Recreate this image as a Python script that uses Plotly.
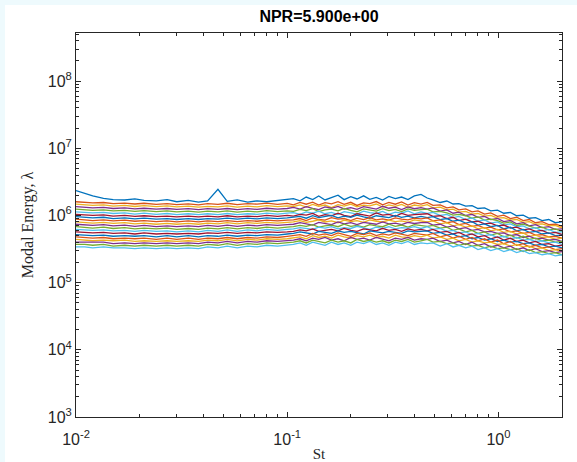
import plotly.graph_objects as go

# Strouhal number grid
st = [0.010, 0.011, 0.012, 0.0135, 0.015, 0.017, 0.019, 0.021, 0.024, 0.027,
      0.030, 0.034, 0.038, 0.042, 0.047, 0.052, 0.058, 0.065, 0.072, 0.080,
      0.090, 0.100,
      0.107, 0.115, 0.123, 0.132, 0.141, 0.151, 0.162, 0.174, 0.186, 0.20,
      0.214, 0.23, 0.246, 0.264, 0.283, 0.303, 0.325, 0.348, 0.373, 0.40, 0.43,
      0.46, 0.49, 0.53, 0.57, 0.61, 0.65, 0.70, 0.75, 0.80, 0.86, 0.92,
      0.99, 1.06, 1.14, 1.22, 1.31, 1.40, 1.50, 1.61, 1.73, 1.86, 2.0]

# Modal energy per mode (units of 1e4)
mode01 = [235,215,195,180,172,170,176,168,165,172,160,168,158,165,245,162,170,158,165,160,168,172,
          178,165,188,172,195,170,185,200,172,190,176,196,174,186,170,192,178,188,172,195,206,
          182,170,156,164,148,150,138,140,127,130,117,120,108,111,99,101,91,93,84,87,78,80]
mode02 = [160,158,154,156,150,153,148,152,146,150,145,149,144,150,146,152,145,150,147,153,146,151,
          144,156,147,158,143,155,149,160,146,157,141,154,150,161,144,156,147,159,143,155,148,
          156,141,144,130,134,121,125,113,117,105,109,97,101,90,94,84,87,78,81,73,74,69]
mode03 = [147,145,141,144,138,141,136,140,135,139,134,138,133,137,134,139,133,138,134,140,135,139,
          136,144,133,146,137,143,131,145,138,147,134,142,139,148,133,144,137,146,132,143,138,
          145,130,133,121,124,112,115,105,107,98,100,91,93,85,87,79,81,74,75,70,71,65]
mode04 = [135,133,130,132,127,130,125,128,124,127,123,126,122,126,123,127,122,126,123,128,124,127,
          132,124,135,127,122,134,128,136,125,131,123,135,129,124,137,128,133,122,134,126,131,
          124,130,116,121,108,112,100,104,94,97,87,90,81,84,75,78,70,73,66,68,62,63]
mode05 = [124,122,119,121,117,119,115,118,114,117,113,116,112,116,113,117,112,116,113,118,114,117,
          115,123,118,126,114,121,124,117,127,119,113,125,120,116,126,118,123,114,125,119,122,
          124,113,115,109,101,104,99,91,95,85,88,84,77,80,71,74,70,65,67,61,63,58]
mode06 = [113,111,109,111,107,109,105,108,104,107,103,106,103,106,103,107,103,106,104,108,105,108,
          110,104,113,108,116,106,111,103,114,109,105,116,110,107,115,104,112,108,117,106,113,
          107,111,100,104,93,97,87,92,82,86,77,80,72,75,68,70,63,66,59,62,56,57]
mode07 = [104,102,100,102,98,100,97,99,96,98,95,98,95,98,95,99,95,98,96,100,97,100,
          98,104,101,107,97,103,99,108,100,96,106,102,98,109,101,104,97,107,100,103,105,
          106,97,99,90,94,84,88,80,82,75,77,70,72,65,67,61,63,58,60,54,56,52]
mode08 = [96,94,92,94,90,92,89,91,88,90,87,90,87,90,88,91,88,91,89,92,90,92,
          94,97,91,99,93,96,100,92,98,94,101,95,91,99,96,93,100,94,98,92,97,
          93,96,87,90,82,85,77,81,72,75,68,71,63,67,59,62,56,58,53,55,50,51]
mode09 = [88,86,84,86,83,85,82,84,81,83,80,83,80,83,81,84,81,84,82,85,83,85,
          86,90,84,92,87,85,93,88,90,84,91,87,93,86,89,85,92,88,86,91,89,
          92,83,86,78,81,73,76,69,71,65,67,61,63,57,59,54,56,51,52,48,49,46]
mode10 = [80,79,77,79,76,78,75,77,74,76,74,76,74,77,75,78,75,78,76,79,77,79,
          80,84,79,82,86,80,83,78,85,81,84,79,86,82,80,85,81,83,79,86,82,
          80,83,75,78,70,73,67,70,63,66,59,62,56,58,53,55,49,51,47,48,44,46]
mode11 = [74,73,71,73,70,72,69,71,68,70,68,70,68,71,69,72,69,72,70,73,71,73,
          74,78,75,72,79,76,73,80,75,78,73,79,76,74,80,75,77,73,79,76,78,
          79,72,74,67,70,63,66,60,62,57,58,54,55,50,52,47,49,45,46,43,44,41]
mode12 = [68,67,65,67,64,66,63,65,63,65,62,64,62,65,63,66,63,66,64,67,65,67,
          68,71,69,73,67,70,72,68,74,69,71,67,73,70,68,74,69,72,67,73,70,
          69,71,65,67,60,63,57,60,54,57,51,54,48,51,46,49,44,46,42,43,40,41]
mode13 = [62,61,60,61,59,60,58,60,58,59,57,59,57,60,58,61,58,61,59,62,60,62,
          63,66,64,62,67,65,68,63,66,64,69,65,62,67,64,68,63,66,65,68,64,
          68,62,64,58,60,55,57,52,54,50,52,47,49,45,47,43,44,41,42,39,40,37]
mode14 = [57,56,55,56,54,55,53,55,53,54,53,54,53,55,54,56,54,56,55,57,56,57,
          58,61,59,63,58,60,62,59,64,60,58,63,61,59,64,60,62,58,63,60,62,
          59,62,56,58,53,56,50,53,48,50,45,48,43,46,41,43,39,41,37,38,35,36]
mode15 = [52,51,50,51,49,50,49,50,48,50,48,50,48,50,49,51,49,51,50,52,51,53,
          54,57,55,53,58,56,54,59,56,58,55,53,59,57,55,58,56,54,59,57,58,
          59,54,56,51,53,48,50,45,47,43,45,41,43,40,41,38,39,36,37,34,35,33]
mode16 = [48,47,46,47,45,46,45,46,44,46,44,46,44,46,45,47,45,47,46,48,47,49,
          50,52,49,54,51,53,50,55,52,49,54,52,55,50,53,51,55,52,50,54,52,
          51,54,48,51,46,49,44,47,42,45,40,43,38,41,36,38,34,36,33,34,31,32]
mode17 = [44,43,42,43,42,43,41,42,41,42,41,42,41,43,42,44,42,44,43,45,44,45,
          46,48,45,50,47,49,46,51,48,46,50,48,51,47,49,46,51,48,47,50,48,
          51,46,48,44,46,42,44,40,42,39,40,37,38,35,37,34,35,32,33,30,31,29]
mode18 = [40,40,39,40,38,39,38,39,38,39,38,39,38,40,39,41,39,41,40,42,41,42,
          43,45,42,46,44,47,43,45,42,47,44,46,43,47,45,42,46,44,47,43,45,
          44,46,41,43,39,41,37,40,36,38,34,36,33,35,31,33,30,32,29,30,28,29]
mode19 = [37,37,36,37,35,36,35,36,35,36,35,36,35,37,36,38,36,38,37,39,38,39,
          40,42,39,43,41,39,43,40,42,39,44,41,43,40,42,39,43,41,44,40,42,
          44,40,41,38,39,36,38,35,36,33,35,32,33,31,32,29,31,28,29,27,28,26]
mode20 = [34,34,33,34,33,33,32,33,32,33,32,33,32,34,33,35,33,35,34,36,35,36,
          37,39,36,40,38,36,40,37,39,36,40,38,41,37,39,36,40,38,41,37,39,
          38,39,35,38,34,36,33,35,31,33,30,32,29,31,28,30,27,28,26,27,25,26]

modes = [mode01, mode02, mode03, mode04, mode05, mode06, mode07, mode08, mode09, mode10,
         mode11, mode12, mode13, mode14, mode15, mode16, mode17, mode18, mode19, mode20]
unit = 1e4
for m in modes:
    assert len(m) == len(st), len(m)

x_tickvals = [0.01, 0.1, 1]
x_ticktext = ["10<sup>-2</sup>", "10<sup>-1</sup>", "10<sup>0</sup>"]
y_tickvals = [1e3, 1e4, 1e5, 1e6, 1e7, 1e8]
y_ticktext = ["10<sup>3</sup>", "10<sup>4</sup>", "10<sup>5</sup>", "10<sup>6</sup>",
              "10<sup>7</sup>", "10<sup>8</sup>"]

colors = ["#0072BD", "#D95319", "#EDB120", "#7E2F8E", "#77AC30", "#4DBEEE", "#A2142F"]

fig = go.Figure()
for i, m in enumerate(modes):
    fig.add_trace(go.Scatter(
        x=st, y=[v * unit for v in m], mode="lines",
        line=dict(color=colors[i % 7], width=1.3),
        showlegend=False, hoverinfo="skip"))

minor_x = [k * 10.0 ** e for e in (-2, -1) for k in range(2, 10)] + [2.0]
minor_y = [k * 10.0 ** e for e in range(3, 9) for k in range(2, 10)]

axis_common = dict(
    type="log", showgrid=False, zeroline=False, automargin=False,
    showline=True, linecolor="#262626", linewidth=1,
    mirror="allticks", ticks="inside", ticklen=5, tickwidth=1, tickcolor="#262626",
    tickfont=dict(family="Liberation Sans, Arial, sans-serif", size=16, color="#262626"),
)

fig.update_layout(
    width=577, height=462,
    margin=dict(l=76, r=15, t=33, b=45),
    paper_bgcolor="white", plot_bgcolor="white",
    title=dict(text="<b>NPR=5.900e+00</b>", x=0.5, xref="paper", xanchor="center",
               y=1 - 16 / 462, yanchor="middle",
               font=dict(family="Liberation Sans, Arial, sans-serif", size=16, color="black")),
    xaxis=dict(**axis_common, range=[-2, 0.30103],
               tickvals=x_tickvals, ticktext=x_ticktext, ticklabelstandoff=8,
               minor=dict(tickvals=minor_x, ticks="inside", ticklen=3, tickcolor="#262626"),
               title=dict(text="St", standoff=2,
                          font=dict(family="Liberation Serif, Times New Roman, serif", size=15, color="#262626"))),
    yaxis=dict(**axis_common, range=[3, 8.716],
               tickvals=y_tickvals, ticktext=y_ticktext,
               minor=dict(tickvals=minor_y, ticks="inside", ticklen=3, tickcolor="#262626"),
               title=dict(text="Modal Energy, λ", standoff=10,
                          font=dict(family="Liberation Serif, Times New Roman, serif", size=16, color="#262626"))),
    shapes=[
        dict(type="rect", xref="paper", yref="paper", layer="below",
             x0=-76 / 486, x1=(577 - 76) / 486, y0=1 + 28 / 384, y1=1 + 33 / 384,
             fillcolor="#EEFAFD", line=dict(width=0)),
        dict(type="rect", xref="paper", yref="paper", layer="below",
             x0=-76 / 486, x1=-71 / 486, y0=-45 / 384, y1=1 + 33 / 384,
             fillcolor="#EEFAFD", line=dict(width=0)),
    ],
)

fig.write_html("out.html")
